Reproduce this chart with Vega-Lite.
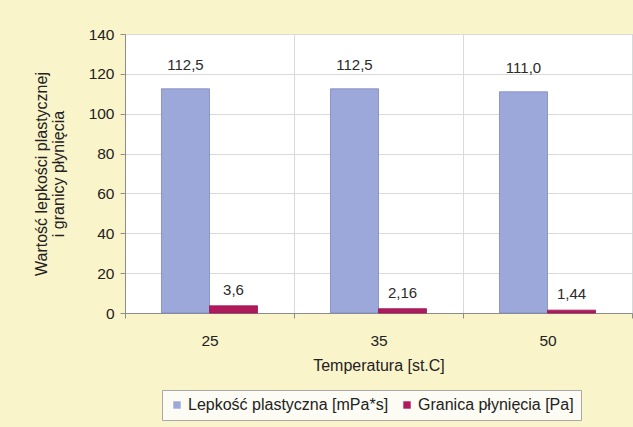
{
  "$schema": "https://vega.github.io/schema/vega-lite/v6.json",
  "width": 507,
  "height": 279,
  "autosize": {"type": "none"},
  "padding": {"left": 125, "top": 34, "right": 1, "bottom": 114},
  "background": "#faf4cb",
  "config": {
    "locale": {"number": {"decimal": ",", "thousands": " ", "grouping": [3], "currency": ["", ""]}},
    "font": "Liberation Sans",
    "view": {"fill": "white", "stroke": "#c4c4c4"},
    "axis": {
      "labelFont": "Liberation Sans",
      "titleFont": "Liberation Sans",
      "labelFontSize": 15.5,
      "titleFontSize": 16,
      "titleFontWeight": "normal",
      "labelColor": "#222222",
      "titleColor": "#222222",
      "domainColor": "#8c8c8c",
      "tickColor": "#8c8c8c",
      "gridColor": "#d9d9d9",
      "tickSize": 5
    }
  },
  "data": {
    "values": [
      {"temp": "25", "seria": "Lepkość plastyczna [mPa*s]", "wartosc": 112.5},
      {"temp": "25", "seria": "Granica płynięcia [Pa]", "wartosc": 3.6},
      {"temp": "35", "seria": "Lepkość plastyczna [mPa*s]", "wartosc": 112.5},
      {"temp": "35", "seria": "Granica płynięcia [Pa]", "wartosc": 2.16},
      {"temp": "50", "seria": "Lepkość plastyczna [mPa*s]", "wartosc": 111.0},
      {"temp": "50", "seria": "Granica płynięcia [Pa]", "wartosc": 1.44}
    ]
  },
  "encoding": {
    "x": {
      "field": "temp",
      "type": "nominal",
      "sort": ["25", "35", "50"],
      "scale": {"paddingInner": 0, "paddingOuter": 0},
      "axis": {
        "title": "Temperatura [st.C]",
        "labelAngle": 0,
        "grid": true,
        "tickBand": "extent",
        "labelPadding": 15,
        "titlePadding": 9
      }
    },
    "xOffset": {
      "field": "seria",
      "type": "nominal",
      "sort": ["Lepkość plastyczna [mPa*s]", "Granica płynięcia [Pa]"],
      "scale": {"paddingInner": 0, "paddingOuter": 0.76}
    },
    "y": {
      "field": "wartosc",
      "type": "quantitative",
      "scale": {"domain": [0, 140], "nice": false},
      "axis": {
        "title": ["Wartość lepkości plastycznej", "i granicy płynięcia"],
        "values": [0, 20, 40, 60, 80, 100, 120, 140],
        "labelPadding": 6,
        "titlePadding": 22,
        "titleLineHeight": 17,
        "grid": true
      }
    }
  },
  "layer": [
    {
      "mark": {"type": "bar", "strokeWidth": 0.8},
      "encoding": {
        "color": {
          "field": "seria",
          "type": "nominal",
          "sort": ["Lepkość plastyczna [mPa*s]", "Granica płynięcia [Pa]"],
          "scale": {
            "domain": ["Lepkość plastyczna [mPa*s]", "Granica płynięcia [Pa]"],
            "range": ["#9ca8da", "#b01a5c"]
          },
          "legend": {
            "title": null,
            "orient": "none",
            "direction": "horizontal",
            "legendX": 37,
            "legendY": 356,
            "symbolType": "square",
            "symbolSize": 55,
            "symbolStrokeWidth": 0,
            "labelFont": "Liberation Sans",
            "labelFontSize": 16,
            "labelLimit": 0,
            "labelColor": "#222222",
            "labelOffset": 3,
            "columnPadding": 10,
            "padding": 7,
            "strokeColor": "#a8a8a8",
            "fillColor": "#fdfcf4"
          }
        },
        "stroke": {
          "field": "seria",
          "type": "nominal",
          "scale": {
            "domain": ["Lepkość plastyczna [mPa*s]", "Granica płynięcia [Pa]"],
            "range": ["#7c88bc", "#9a1450"]
          },
          "legend": null
        }
      }
    },
    {
      "transform": [{"filter": "datum.seria == 'Lepkość plastyczna [mPa*s]'"}],
      "mark": {"type": "text", "baseline": "middle", "dy": -24, "fontSize": 15, "color": "#2a2a2a", "font": "Liberation Sans"},
      "encoding": {"text": {"field": "wartosc", "type": "quantitative", "format": ".1f"}}
    },
    {
      "transform": [{"filter": "datum.seria == 'Granica płynięcia [Pa]'"}],
      "mark": {"type": "text", "baseline": "middle", "dy": -16, "fontSize": 15, "color": "#2a2a2a", "font": "Liberation Sans"},
      "encoding": {"text": {"field": "wartosc", "type": "quantitative", "format": ".3~r"}}
    }
  ]
}
